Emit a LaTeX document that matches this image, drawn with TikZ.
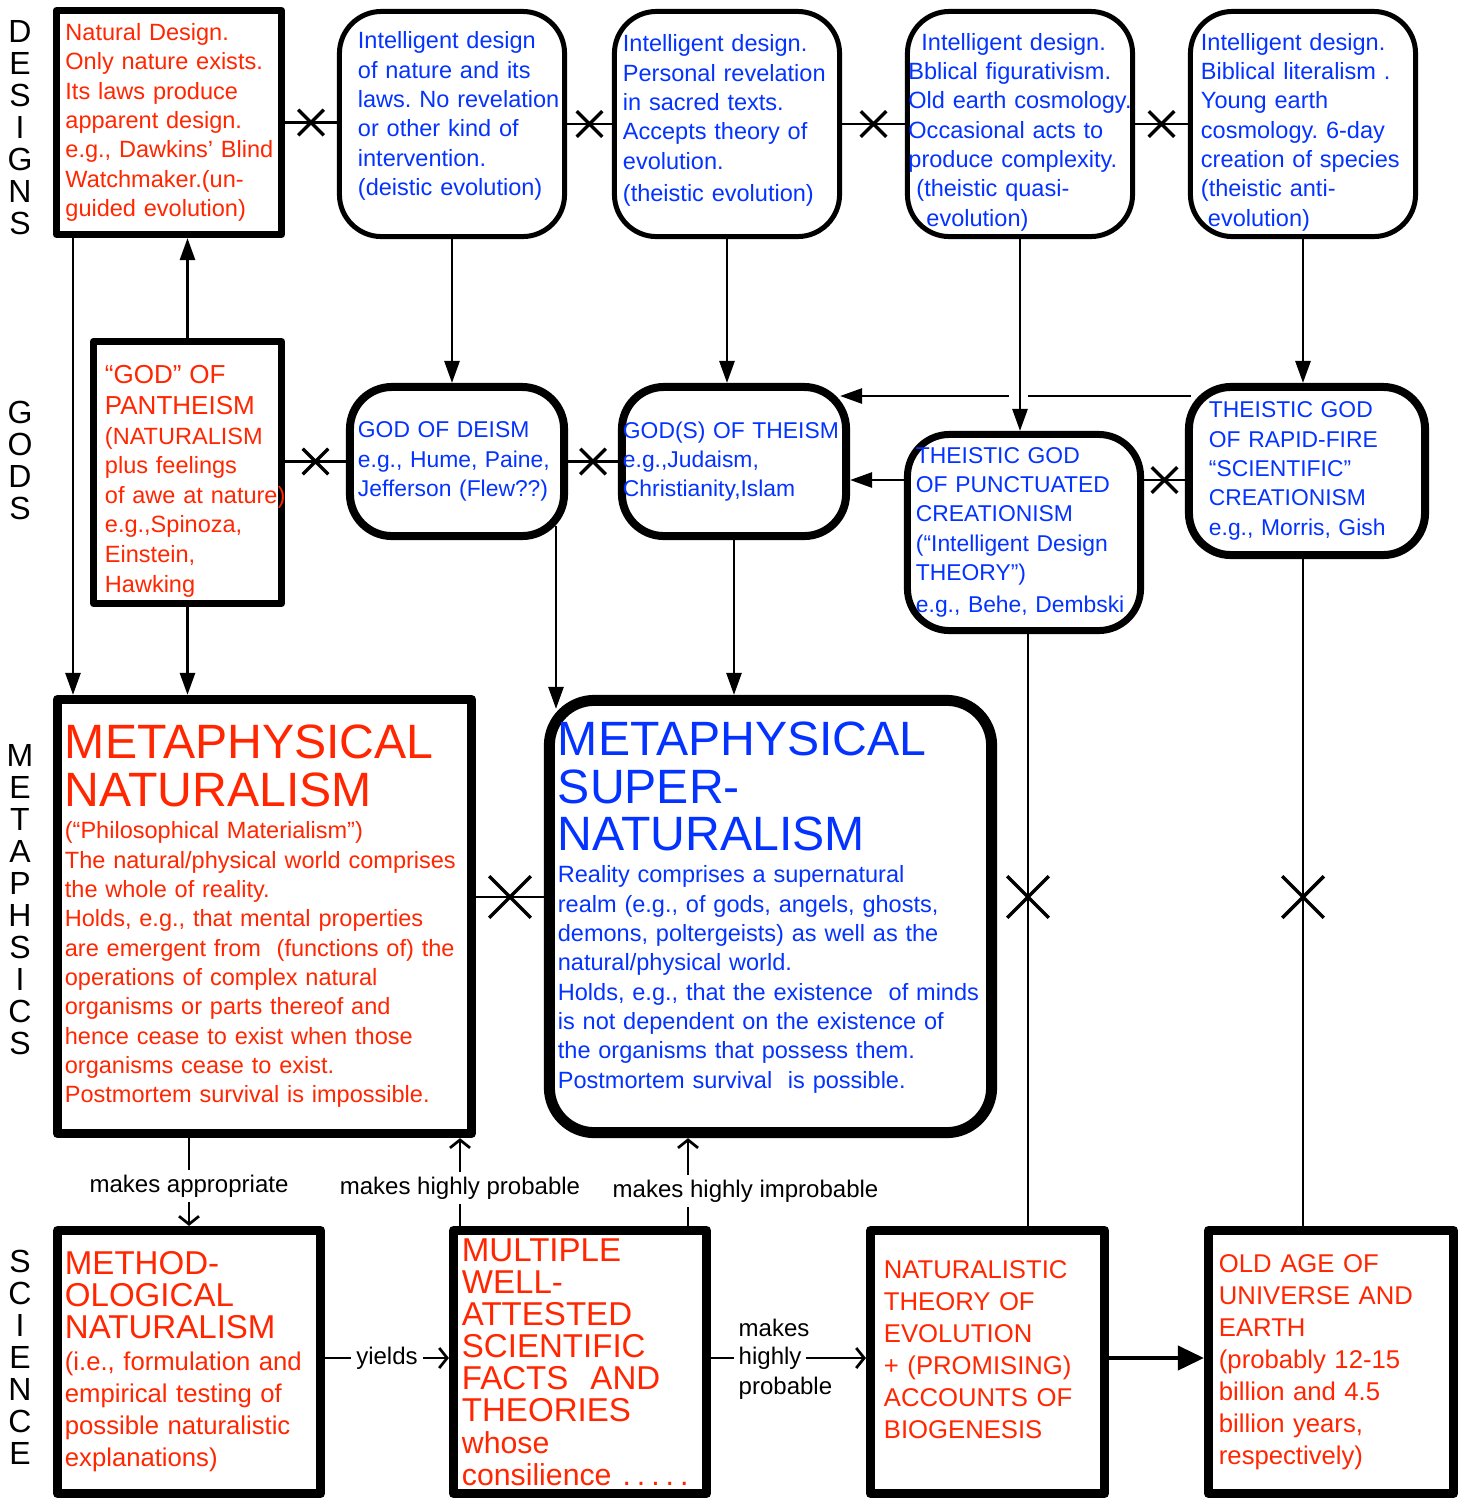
\documentclass[tikz,border=0pt]{standalone}
\usepackage{fontspec}
\setmainfont{Liberation Sans}
\usetikzlibrary{arrows.meta,calc,shapes.misc}
\definecolor{natred}{RGB}{255,38,0}
\definecolor{supblue}{RGB}{4,51,255}
\setlength{\parindent}{0pt}
\frenchspacing
\newcommand\fsmall{\fontsize{6.69}{8.34}\selectfont}
\newcommand\fgod{\fontsize{6.5}{8.34}\selectfont}
\newcommand\fpan{\fontsize{7.4}{8.8}\selectfont}
\newcommand\fpanb{\fontsize{6.69}{8.4}\selectfont}
\newcommand\ftitle{\fontsize{13.7}{13.4}\selectfont}
\newcommand\fscibig{\fontsize{9.4}{9.1}\selectfont}
\newcommand\fscitxt{\fontsize{7.3}{9.1}\selectfont}
\newcommand\flbl{\fontsize{6.83}{8.5}\selectfont}
\newcommand\fside{\fontsize{9.1}{9.1}\selectfont}
\newcommand\dotgap{\hspace{0.06cm}}
\begin{document}
\begin{tikzpicture}[x=0.01cm, y=-0.01cm, line join=round,
    box/.style={draw, fill=white, inner ysep=0pt, align=left,
      execute at begin node={\rightskip=0pt plus 1fil minus 10cm\hyphenpenalty=10000}},
    sqbox/.style={box, line width=#1},
    rdbox/.style={box, line width=#1, rounded corners=0.42cm},
    redtext/.style={text=natred},
    bluetext/.style={text=supblue},
    link/.style={line width=0.027cm},
    arr/.style={link, -{Triangle[length=0.22cm,width=0.15cm]}},
    barb/.style={link, -{Straight Barb[length=0.08cm,width=0.2cm]}},
    xmark/.style={draw, cross out, minimum size=#1, inner sep=0pt, line width=0.035cm},
    lbl/.style={fill=white, font=\flbl, inner sep=0.05cm},
    side/.style={align=center, font=\fside, inner sep=0pt}]
\useasboundingbox (0,0) rectangle (1466,1499);

% row labels
\node[side] (sdes) at (20,128) {D\\E\\S\\I\\G\\N\\S};
\node[side] (sgod) at (20,460) {G\\O\\D\\S};
\node[side] (smet) at (20,900) {M\\E\\T\\A\\P\\H\\S\\I\\C\\S};
\node[side] (ssci) at (20,1357) {S\\C\\I\\E\\N\\C\\E};

% designs
\node[sqbox=0.07cm, redtext, font=\fsmall, text width=2.07cm, inner xsep=0.09cm, minimum height=2.24cm] (nd) at (169,122.5)
  {Natural Design.\\Only nature exists.\\Its laws produce\\apparent design.\\e.g., Dawkins’ Blind\\Watchmaker.(un-\\guided evolution)};
\node[rdbox=0.05cm, bluetext, font=\fsmall, text width=1.88cm, inner xsep=0.185cm, minimum height=2.25cm] (id1) at (452,124)
  {Intelligent design\\of nature and its\\laws. No revelation\\or other kind of\\intervention.\\(deistic evolution)\par\vspace{4.5pt}};
\node[rdbox=0.05cm, bluetext, font=\fsmall, text width=2.08cm, inner xsep=0.085cm, minimum height=2.25cm] (id2) at (727,124)
  {Intelligent design.\\Personal revelation\\in sacred texts.\\Accepts theory of\\evolution.\\[0.03cm](theistic evolution)\par\vspace{2pt}};
\node[rdbox=0.05cm, bluetext, font=\fsmall, text width=2.23cm, inner xsep=0.01cm, minimum height=2.25cm] (id3) at (1020,124)
  {\hspace*{0.13cm}Intelligent design.\\Bblical figurativism.\\Old earth cosmology.\\Occasional acts to\\produce complexity.\\\hspace*{0.08cm}(theistic quasi-\\\hspace*{0.18cm}evolution)\par\vspace{-4.6pt}};
\node[rdbox=0.05cm, bluetext, font=\fsmall, text width=2.04cm, inner xsep=0.105cm, minimum height=2.25cm] (id4) at (1303,124)
  {Intelligent design.\\Biblical literalism .\\Young earth\\cosmology. 6-day\\creation of species\\(theistic anti-\\\hspace*{0.07cm}evolution)\par\vspace{-4.6pt}};

% gods
\node[sqbox=0.07cm, redtext, font=\fpanb, text width=1.65cm, inner xsep=0.115cm, minimum height=2.62cm] (pan) at (187.5,472.5)
  {{\fpan “GOD” OF\\PANTHEISM\par}(NATURALISM\\plus feelings\\of awe at nature)\\e.g.,Spinoza,\\Einstein,\\Hawking\par\vspace{-5pt}};
\node[rdbox=0.08cm, bluetext, font=\fgod, text width=1.98cm, inner xsep=0.08cm, minimum height=1.49cm] (deism) at (457,461.5)
  {GOD OF DEISM\\e.g., Hume, Paine,\\Jefferson (Flew??)};
\node[rdbox=0.08cm, bluetext, font=\fgod, text width=2.22cm, inner xsep=0.01cm, minimum height=1.49cm] (theism) at (734,461.5)
  {GOD(S) OF THEISM\\e.g.,Judaism,\\Christianity,Islam};
\node[rdbox=0.07cm, bluetext, font=\fgod, text width=2.16cm, inner xsep=0.085cm, minimum height=1.96cm] (punct) at (1024,532.5)
  {THEISTIC GOD\\OF PUNCTUATED\\CREATIONISM\\(“Intelligent Design\\THEORY”)\\[0.03cm]e.g., Behe, Dembski};
\node[rdbox=0.08cm, bluetext, font=\fgod, text width=1.96cm, inner xsep=0.2cm, minimum height=1.68cm] (rapid) at (1307,471)
  {THEISTIC GOD\\OF RAPID-FIRE\\“SCIENTIFIC”\\CREATIONISM\\e.g., Morris, Gish};

% metaphysics
\node[sqbox=0.09cm, redtext, font=\fsmall, text width=3.99cm, inner xsep=0.075cm, minimum height=4.34cm] (mn) at (264.5,916.5)
  {{\ftitle METAPHYSICAL\\NATURALISM\par}\vspace{1pt}(“Philosophical Materialism”)\\The natural/physical world comprises\\the whole of reality.\\Holds, e.g., that mental properties\\are emergent from\ \ (functions of) the\\operations of complex natural\\organisms or parts thereof and\\hence cease to exist when those\\organisms cease to exist.\\Postmortem survival is impossible.};
\node[rdbox=0.11cm, rounded corners=0.45cm, bluetext, font=\fsmall, text width=4.25cm, inner xsep=0.085cm, minimum height=4.32cm] (ms) at (770.5,916.5)
  {{\ftitle METAPHYSICAL\\SUPER-\\NATURALISM\par}\vspace{1pt}Reality comprises a supernatural\\realm (e.g., of gods, angels, ghosts,\\demons, poltergeists) as well as the\\natural/physical world.\\Holds, e.g., that the existence\ \ of minds\\is not dependent on the existence of\\the organisms that possess them.\\Postmortem survival\ \ is possible.\par\vspace{5pt}};

% science
\node[sqbox=0.09cm, redtext, font=\fscitxt, text width=2.48cm, inner xsep=0.075cm, minimum height=2.63cm] (meth) at (189,1362)
  {{\fscibig METHOD-\\OLOGICAL\\NATURALISM\par}(i.e., formulation and\\empirical testing of\\possible naturalistic\\explanations)};
\node[sqbox=0.09cm, redtext, font=\fscibig, text width=2.36cm, inner xsep=0.085cm, minimum height=2.63cm] (multi) at (580,1362)
  {MULTIPLE\\WELL-\\ATTESTED\\SCIENTIFIC\\FACTS\ \ AND\\THEORIES\\{\fontsize{8.6}{9.1}\selectfont whose}\\{\fontsize{8.6}{9.1}\selectfont consilience .\dotgap.\dotgap.\dotgap.\dotgap.}};
\node[sqbox=0.09cm, redtext, font=\fscitxt, text width=2.07cm, inner xsep=0.135cm, minimum height=2.63cm] (nat) at (987.5,1362)
  {NATURALISTIC\\THEORY OF\\EVOLUTION\\+ (PROMISING)\\ACCOUNTS OF\\BIOGENESIS\par\vspace{7pt}};
\node[sqbox=0.09cm, redtext, font=\fscitxt, text width=2.24cm, inner xsep=0.105cm, minimum height=2.63cm] (old) at (1331,1362)
  {OLD AGE OF\\UNIVERSE AND\\EARTH\\(probably 12-15\\billion and 4.5\\billion years,\\respectively)};

% connectors, designs row
\draw[link] (nd.east) -- (nd.east -| id1.west) node[xmark=0.22cm, midway] (x1) {};
\draw[link] (id1.east) -- (id2.west) node[xmark=0.22cm, midway] (x2) {};
\draw[link] (id2.east) -- (id3.west) node[xmark=0.22cm, midway] (x3) {};
\draw[link] (id3.east) -- (id4.west) node[xmark=0.22cm, midway] (x4) {};
\draw[arr] (pan.north) -- (pan.north |- nd.south);
\draw[arr] (id1.south) -- (id1.south |- deism.north);
\draw[arr] (id2.south) -- (id2.south |- theism.north);
\draw[arr] (id4.south) -- (id4.south |- rapid.north);

% gods row
\coordinate (g1) at (0,396);
\coordinate (g2) at (0,480);
\draw[link] (pan.east |- deism.west) -- (deism.west) node[xmark=0.22cm, midway] (x5) {};
\draw[link] (deism.east) -- (theism.west) node[xmark=0.22cm, midway] (x6) {};
\draw[arr] (punct.west |- g2) -- (theism.east |- g2);
\draw[link] (rapid.west |- g2) -- (punct.east |- g2) node[xmark=0.22cm, midway] (x7) {};
\draw[arr] ($(rapid.west |- g1)+(6,0)$) -- ($(theism.east |- g1)+(-10,0)$);
\fill[white] (1009,388) rectangle (1028,404);
\draw[arr] (id3.south) -- (id3.south |- punct.north);

% down to metaphysics
\coordinate (g5) at (73,0);
\coordinate (g6) at (556,0);
\draw[arr] (nd.south -| g5) -- (mn.north -| g5);
\draw[arr] (pan.south) -- (pan.south |- mn.north);
\draw[arr] ($(deism.south -| g6)+(0,-14)$) -- ($(ms.north -| g6)+(0,14)$);
\draw[arr] (theism.south) -- (theism.south |- ms.north);

% metaphysics row
\coordinate (g3) at (0,897);
\coordinate (g9) at (1028,0);
\coordinate (g10) at (1303,0);
\draw[link] (mn.east |- g3) -- (ms.west |- g3) node[xmark=0.38cm, midway] (x8) {};
\draw[link] (punct.south -| g9) -- (nat.north -| g9);
\draw[link] (rapid.south -| g10) -- (old.north -| g10);
\node[xmark=0.38cm] (x9) at (g9 |- g3) {};
\node[xmark=0.38cm] (x10) at (g10 |- g3) {};

% science links
\coordinate (g7) at (460,0);
\coordinate (g8) at (688,0);
\draw[barb] (meth.north |- mn.south) -- node[lbl, yshift=-0.04cm] (l1) {makes appropriate} (meth.north);
\draw[barb] (multi.north -| g7) -- node[lbl, yshift=-0.06cm] (l2) {makes highly probable} (mn.south -| g7);
\draw[barb] (multi.north -| g8) -- node[lbl, xshift=0.575cm, yshift=-0.09cm] (l3) {makes highly improbable} (ms.south -| g8);
\coordinate (g4) at (0,1358);
\draw[barb] (meth.east |- g4) -- node[lbl] (l4) {yields} (multi.west |- g4);
\draw[barb] (multi.east |- g4) -- (nat.west |- g4);
\node[lbl, anchor=west] (l5) at (733,1358) {highly};
\node[lbl, fill=none, anchor=west] (l6) at ($(l5.west)+(0,-30)$) {makes};
\node[lbl, fill=none, anchor=west] (l7) at ($(l5.west)+(0,30)$) {probable};
\draw[line width=0.04cm, -{Triangle[length=0.26cm,width=0.24cm]}] (nat.east |- g4) -- (old.west |- g4);
\end{tikzpicture}
\end{document}
